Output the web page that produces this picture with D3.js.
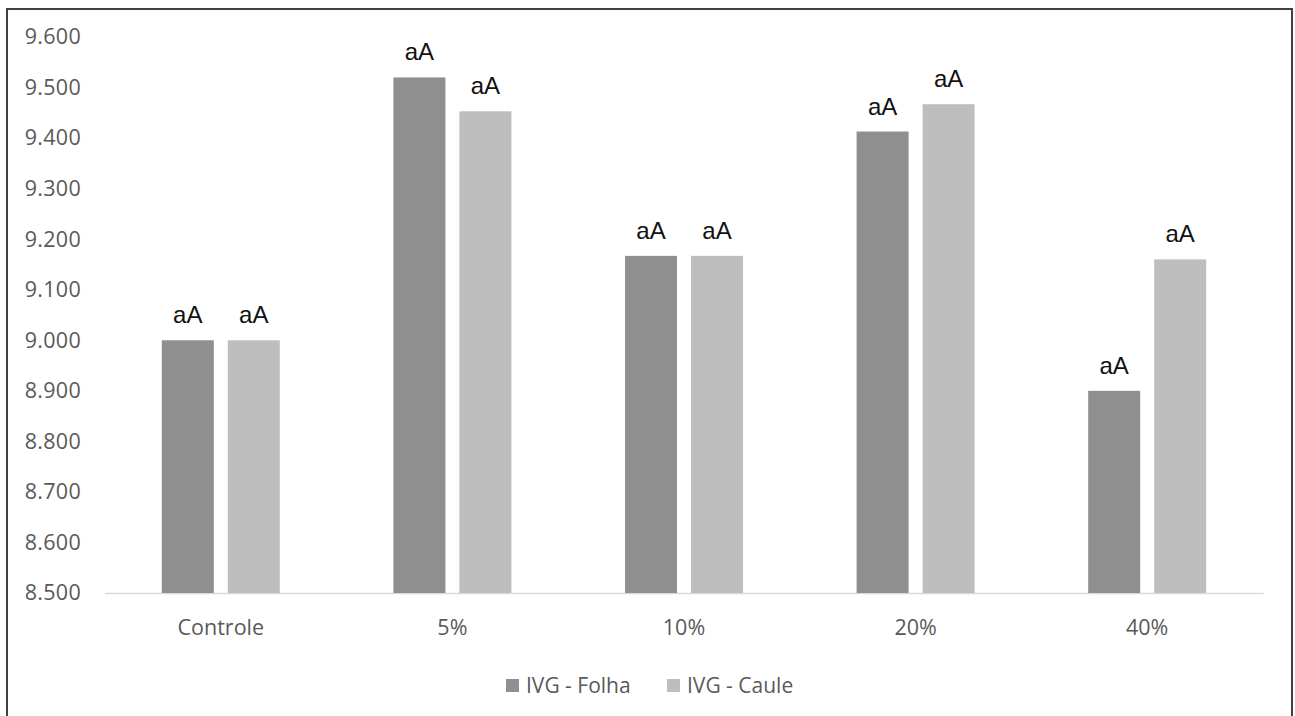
<!DOCTYPE html>
<html>
<head>
<meta charset="utf-8">
<script src="https://cdn.jsdelivr.net/npm/d3@7/dist/d3.min.js"></script>
<style>
  html, body { margin: 0; padding: 0; background: #fff; }
  svg { display: block; }
</style>
</head>
<body>
<svg id="chart" width="1295" height="716"></svg>
<script>
// Treatments and IVG values per plant part
const categories = ["Controle", "5%", "10%", "20%", "40%"];
const seriesNames = ["IVG - Folha", "IVG - Caule"];
const folha = [9.000, 9.520, 9.167, 9.413, 8.900];
const caule = [9.000, 9.453, 9.167, 9.467, 9.160];
const letters = ["aA", "aA", "aA", "aA", "aA"];
const yTicks = [8.5, 8.6, 8.7, 8.8, 8.9, 9.0, 9.1, 9.2, 9.3, 9.4, 9.5, 9.6];
const colors = ["#8f8f8f", "#bebebe"];

const svg = d3.select("#chart");

// frame around the whole figure
svg.append("rect")
  .attr("x", 7).attr("y", 9)
  .attr("width", 1285).attr("height", 720)
  .attr("fill", "none").attr("stroke", "#404040").attr("stroke-width", 2);

const plot = { left: 105, right: 1263, top: 37, bottom: 593 };

const x = d3.scaleBand().domain(categories)
  .range([plot.left, plot.right]).paddingInner(0).paddingOuter(0);
const y = d3.scaleLinear().domain([8.5, 9.6]).range([plot.bottom, plot.top]);

const labelFont = "'Open Sans', sans-serif";

// y axis labels (no axis line)
const yAxis = d3.axisLeft(y).tickValues(yTicks).tickSize(0).tickPadding(0)
  .tickFormat(d => d3.format(".3f")(d));
const gy = svg.append("g").attr("transform", "translate(81,0)").call(yAxis);
gy.select(".domain").remove();
gy.selectAll("text")
  .attr("fill", "#595959")
  .style("font-family", labelFont)
  .style("font-size", "21.5px")
  .style("letter-spacing", "0.3px");

// x axis baseline and category labels
const xAxis = d3.axisBottom(x).tickSize(0).tickPadding(27);
const gx = svg.append("g").attr("transform", `translate(0,${plot.bottom})`).call(xAxis);
gx.select(".domain").attr("stroke", "#d9d9d9").attr("stroke-width", 1.5);
gx.selectAll("text")
  .attr("fill", "#595959")
  .style("font-family", labelFont)
  .style("font-size", "21.5px");

// bars
const barW = 52, gap = 14;
const rows = categories.map((c, i) => [
  { cat: c, s: 0, v: folha[i], lab: letters[i] },
  { cat: c, s: 1, v: caule[i], lab: letters[i] }
]).flat();
const bx = d => x(d.cat) + x.bandwidth() / 2 + (d.s === 0 ? -gap / 2 - barW : gap / 2);

svg.append("g").selectAll("rect").data(rows).join("rect")
  .attr("x", bx)
  .attr("y", d => y(d.v))
  .attr("width", barW)
  .attr("height", d => y(8.5) - y(d.v))
  .attr("fill", d => colors[d.s]);

// significance letters above bars
svg.append("g").selectAll("text").data(rows).join("text")
  .attr("x", d => bx(d) + barW / 2)
  .attr("y", d => y(d.v) - 17)
  .attr("text-anchor", "middle")
  .attr("fill", "#111")
  .style("font-family", "'Liberation Sans', Arial, sans-serif")
  .style("font-size", "24px")
  .text(d => d.lab);

// legend
const legend = svg.append("g");
const legX = [506, 667];
seriesNames.forEach((n, i) => {
  legend.append("rect").attr("x", legX[i]).attr("y", 679)
    .attr("width", 13).attr("height", 13).attr("fill", colors[i]);
  legend.append("text").attr("x", legX[i] + 20).attr("y", 686)
    .attr("dy", "0.35em")
    .attr("fill", "#595959")
    .style("font-family", labelFont)
    .style("font-size", "21px")
    .text(n);
});
</script>
</body>
</html>
